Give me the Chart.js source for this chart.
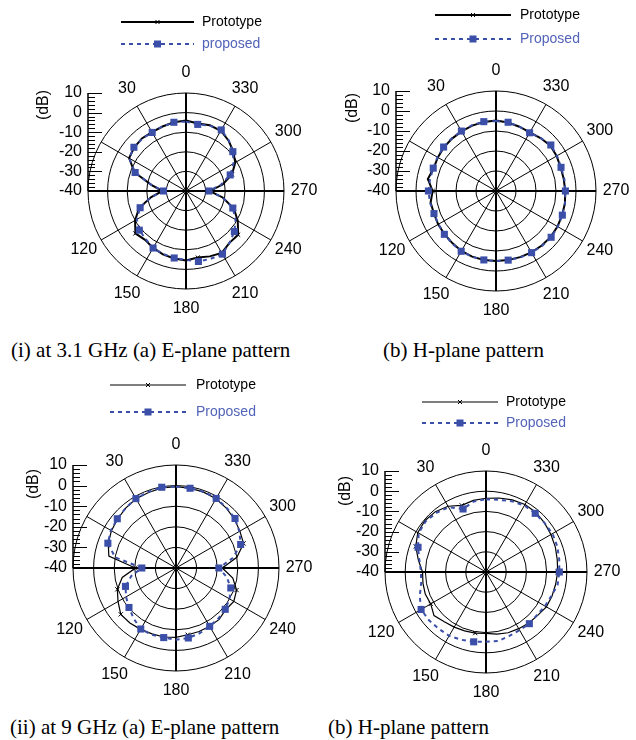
<!DOCTYPE html>
<html>
<head>
<meta charset="utf-8">
<script src="https://cdn.jsdelivr.net/npm/chart.js@4.4.1/dist/chart.umd.min.js"></script>
<style>
  html, body { margin: 0; padding: 0; background: #fff; }
  body { width: 636px; height: 740px; position: relative; overflow: hidden; }
  canvas { position: absolute; }
  .cap { position: absolute; font-family: 'Liberation Serif', 'Times New Roman', serif; font-size: 21px; line-height: 24px; color: #000; white-space: nowrap; }
</style>
</head>
<body>
<canvas id="e31" width="318" height="330" style="left:0;top:0"></canvas>
<canvas id="h31" width="318" height="330" style="left:318px;top:0"></canvas>
<canvas id="e9" width="318" height="340" style="left:0;top:370px"></canvas>
<canvas id="h9" width="318" height="340" style="left:318px;top:370px"></canvas>
<div class="cap" style="left:11px;top:338px">(i) at 3.1 GHz (a) E-plane pattern</div>
<div class="cap" style="left:383px;top:338px">(b) H-plane pattern</div>
<div class="cap" style="left:10px;top:715px">(ii) at 9 GHz (a) E-plane pattern</div>
<div class="cap" style="left:328px;top:715px">(b) H-plane pattern</div>
<script>
// angles measured counter-clockwise from the top, one value every 10 degrees
const angles = [0, 10, 20, 30, 40, 50, 60, 70, 80, 90, 100, 110, 120, 130, 140, 150, 160, 170,
                180, 190, 200, 210, 220, 230, 240, 250, 260, 270, 280, 290, 300, 310, 320, 330, 340, 350];
const angleTickLabels = [0, 30, 120, 150, 180, 210, 240, 270, 300, 330];
const dbTicks = [10, 0, -10, -20, -30, -40];
const markerAngles = [10, 30, 50, 70, 90, 110, 130, 150, 170, 190, 210, 230, 250, 270, 290, 310, 330, 350];
const markerAnglesH9 = [20, 70, 120, 170, 220, 270, 320];

// (i) 3.1 GHz E-plane
const e31Prototype = [-4.0, -4.4, -5.0, -5.3, -5.0, -5.5, -6.5, -12, -22, -28, -22, -14.5, -10, -6.3, -7.5, -6.5, -5.6, -5.0,
                      -4.6, -5.5, -4.5, -3.5, -5.5, -5.3, -9.5, -14, -21, -28, -21, -15, -11, -8.5, -6.3, -4.5, -4.3, -5.0];
const e31Proposed = [-4.6, -4.4, -5.0, -5.5, -5.2, -5.3, -6.5, -12.4, -22, -28.5, -22, -15.1, -11, -8.9, -8.0, -6.4, -5.8, -5.3,
                     -4.8, -3.5, -3.2, -2.8, -5.5, -7.8, -10.8, -14.6, -21, -28.3, -22, -16.0, -12, -8.8, -6.1, -4.0, -4.5, -5.5];
// (i) 3.1 GHz H-plane
const h31Prototype = [-4.8, -5.0, -5.2, -5.6, -5.8, -6.0, -6.4, -6.8, -5.4, -8.3, -6.8, -7.0, -6.6, -6.4, -6.0, -5.4, -5.1, -5.0,
                      -5.0, -5.0, -4.8, -4.6, -4.4, -4.3, -4.5, -4.8, -5.0, -5.4, -5.6, -5.6, -5.0, -4.6, -5.4, -6.2, -5.8, -5.2];
const h31Proposed = [-5.0, -4.8, -5.0, -5.4, -5.6, -5.8, -6.2, -6.6, -6.5, -6.2, -6.5, -7.0, -6.8, -6.3, -5.8, -5.2, -5.0, -5.0,
                     -5.0, -4.9, -4.6, -4.4, -4.2, -4.0, -4.3, -4.7, -5.0, -5.3, -5.3, -5.4, -4.8, -4.2, -5.3, -6.4, -5.8, -5.1];
// (ii) 9 GHz E-plane
const e9Prototype = [-0.5, -0.5, -1.0, -1.2, -2.0, -3.0, -3.8, -5.0, -6.9, -20.3, -13.5, -9.7, -7.5, -5.0, -5.2, -5.6, -6.0, -6.0,
                     -6.3, -7.1, -7.2, -7.3, -7.4, -8.5, -7.6, -8.7, -12, -17.5, -10, -5.1, -4.2, -3.0, -2.0, -1.2, -0.8, -0.6];
const e9Proposed = [-0.5, -0.2, -0.7, -1.1, -2.0, -2.8, -3.5, -4.8, -10, -23.4, -18, -13.9, -12, -10.2, -8.0, -5.8, -5.5, -5.7,
                    -5.2, -5.5, -6.3, -7.3, -8.0, -8.8, -10, -11.7, -15, -19.2, -12, -6.6, -4.5, -2.6, -1.8, -1.0, -0.6, -0.7];
// (ii) 9 GHz H-plane
const h9Prototype = [-3.5, -4.0, -4.9, -2.4, -1.0, -0.5, -1.0, -3.0, -6.0, -8.6, -8.3, -8.0, -8.4, -6.4, -7.9, -8.5, -9.0, -9.3,
                     -9.6, -8.8, -8.0, -7.6, -7.0, -6.6, -5.5, -5.2, -5.0, -4.5, -4.2, -3.5, -2.9, -2.2, -1.5, -1.4, -2.0, -2.8];
const h9Proposed = [-4.0, -4.6, -6.8, -3.0, -1.8, -1.0, -1.5, -4.2, -6.5, -7.8, -7.4, -5.1, -2.9, -3.0, -3.4, -3.5, -4.3, -4.9,
                    -5.5, -5.3, -6.3, -6.7, -6.6, -7.0, -6.3, -5.5, -4.0, -3.7, -3.2, -2.5, -2.0, -2.2, -2.1, -2.0, -2.7, -3.7];

const BLUE = '#3b4fa8';
const BLUE_TEXT = '#5263b8';
const FONT = '"Liberation Sans", Arial, sans-serif';

// radar runs clockwise, the plots run counter-clockwise: reorder
function cw(arr) {
    return arr.map((v, i) => arr[(arr.length - i) % arr.length]);
}
const radarLabels = cw(angles).map(String);

const polarDecor = {
    id: 'polarDecor',
    afterDraw(chart, args, o) {
        const s = chart.scales.r;
        const c = chart.ctx;
        const R = s.drawingArea, cx = s.xCenter, cy = s.yCenter;
        const yOf = v => cy - s.getDistanceFromCenterForValue(v);
        c.save();

        // angle labels
        c.font = '16px ' + FONT;
        c.fillStyle = '#000';
        c.textAlign = 'center';
        c.textBaseline = 'middle';
        angleTickLabels.forEach(a => {
            const p = s.getPointPosition(radarLabels.indexOf(String(a)), R + 20);
            c.fillText(String(a), p.x, p.y);
        });

        // dB ruler on the left
        const x0 = cx - R;
        c.strokeStyle = '#000';
        c.lineWidth = 1.5;
        c.beginPath();
        c.moveTo(x0, cy);
        c.lineTo(x0, yOf(10));
        c.stroke();
        c.lineWidth = 1;
        for (let v = -40; v <= 10; v += 2) {
            const y = Math.round(yOf(v)) + 0.5;
            const len = v % 10 === 0 ? 14 : 7;
            c.beginPath();
            c.moveTo(x0, y);
            c.lineTo(x0 + len, y);
            c.stroke();
        }
        c.textAlign = 'right';
        dbTicks.forEach(v => c.fillText(String(v), x0 - 6, yOf(v)));
        c.save();
        c.translate(x0 + o.dbDx, yOf(10) + o.dbDy);
        c.rotate(-Math.PI / 2);
        c.textAlign = 'center';
        c.fillText('(dB)', 0, 0);
        c.restore();

        // legend
        const L = o.legend;
        c.font = '14px ' + FONT;
        c.textAlign = 'left';
        c.strokeStyle = '#000';
        c.lineWidth = o.protoWidth;
        c.beginPath();
        c.moveTo(L.x1, L.y1);
        c.lineTo(L.x2, L.y1);
        c.stroke();
        const mx = (L.x1 + L.x2) / 2;
        c.lineWidth = 1;
        c.beginPath();
        c.moveTo(mx - 2, L.y1 - 2); c.lineTo(mx + 2, L.y1 + 2);
        c.moveTo(mx - 2, L.y1 + 2); c.lineTo(mx + 2, L.y1 - 2);
        c.stroke();
        c.fillStyle = '#000';
        c.fillText('Prototype', L.tx, L.y1);

        c.strokeStyle = BLUE;
        c.lineWidth = 2;
        c.setLineDash([4, 4]);
        c.beginPath();
        c.moveTo(L.x1, L.y2);
        c.lineTo(L.x2, L.y2);
        c.stroke();
        c.setLineDash([]);
        c.fillStyle = BLUE;
        c.fillRect(mx - 3.5, L.y2 - 3.5, 7, 7);
        c.fillStyle = BLUE_TEXT;
        c.fillText(L.label, L.tx, L.y2);
        c.restore();
    }
};

function makePolar(id, proto, prop, marks, cfg) {
    const marked = ctx => marks.includes(+radarLabels[ctx.dataIndex]);
    new Chart(document.getElementById(id), {
        type: 'radar',
        data: {
            labels: radarLabels,
            datasets: [{
                label: cfg.legend.label,
                data: cw(prop),
                borderColor: BLUE,
                borderWidth: cfg.propWidth,
                borderDash: [4, 4],
                fill: false,
                tension: 0,
                pointStyle: 'rect',
                pointRadius: ctx => marked(ctx) ? 5 : 0,
                pointBackgroundColor: BLUE,
                pointBorderColor: BLUE,
                pointBorderWidth: 0
            }, {
                label: 'Prototype',
                data: cw(proto),
                borderColor: '#000',
                borderWidth: cfg.protoWidth,
                fill: false,
                tension: 0,
                pointStyle: 'crossRot',
                pointRadius: ctx => marked(ctx) ? 3 : 0,
                pointBorderColor: '#000',
                pointBorderWidth: 1
            }]
        },
        options: {
            responsive: false,
            devicePixelRatio: 1,
            animation: false,
            events: [],
            layout: { padding: cfg.pad },
            plugins: {
                legend: { display: false },
                tooltip: { enabled: false },
                polarDecor: cfg
            },
            scales: {
                r: {
                    min: -40,
                    max: 10,
                    startAngle: 0,
                    ticks: { display: false, stepSize: 10 },
                    pointLabels: { display: false },
                    grid: { circular: true, color: '#000', lineWidth: 1 },
                    angleLines: {
                        color: '#000',
                        lineWidth: ctx => {
                            const a = +radarLabels[ctx.index];
                            return a % 90 === 0 ? 2 : (a % 30 === 0 ? 1 : 0);
                        }
                    }
                }
            }
        },
        plugins: [polarDecor]
    });
}

makePolar('e31', e31Prototype, e31Proposed, markerAngles, {
    pad: { left: 88, top: 93, right: 34, bottom: 41 },
    protoWidth: 2, propWidth: 2, dbDx: -44, dbDy: 12,
    legend: { x1: 121, x2: 194, y1: 22, y2: 44, tx: 202, label: 'proposed' }
});
makePolar('h31', h31Prototype, h31Proposed, markerAngles, {
    pad: { left: 78, top: 91, right: 40, bottom: 39 },
    protoWidth: 2, propWidth: 2, dbDx: -43, dbDy: 17,
    legend: { x1: 117, x2: 193, y1: 15, y2: 39, tx: 202, label: 'Proposed' }
});
makePolar('e9', e9Prototype, e9Proposed, markerAngles, {
    pad: { left: 73, top: 95, right: 39, bottom: 39 },
    protoWidth: 1.2, propWidth: 2, dbDx: -39, dbDy: 19,
    legend: { x1: 110, x2: 186, y1: 15, y2: 42, tx: 196, label: 'Proposed' }
});
makePolar('h9', h9Prototype, h9Proposed, markerAnglesH9, {
    pad: { left: 67, top: 101, right: 49, bottom: 37 },
    protoWidth: 1.2, propWidth: 2, dbDx: -39, dbDy: 20,
    legend: { x1: 104, x2: 180, y1: 32, y2: 53, tx: 188, label: 'Proposed' }
});
</script>
</body>
</html>
